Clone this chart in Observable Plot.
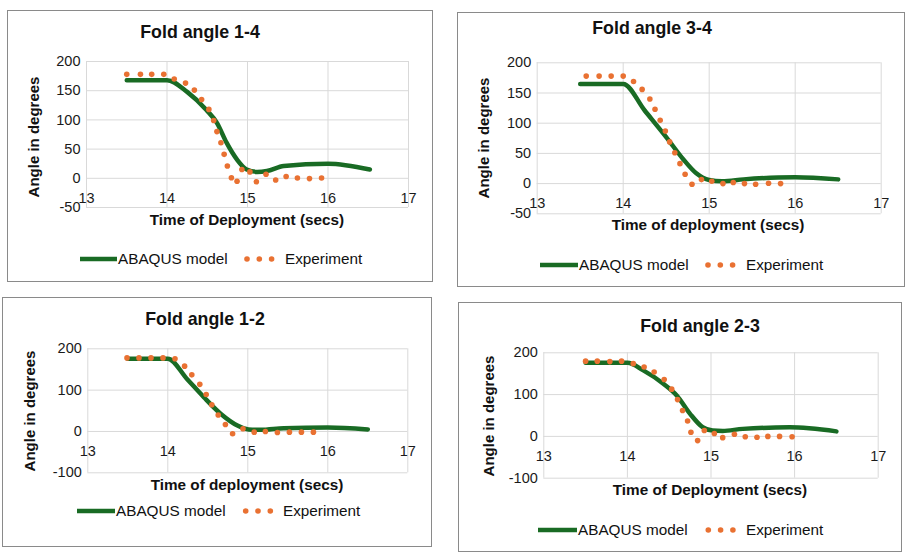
<!DOCTYPE html>
<html>
<head>
<meta charset="utf-8">
<script src="https://cdn.jsdelivr.net/npm/d3@7"></script>
<script src="https://cdn.jsdelivr.net/npm/@observablehq/plot@0.6"></script>
<style>
  html, body { margin: 0; padding: 0; background: #fff; }
  #root { position: relative; width: 912px; height: 559px; overflow: hidden; font-family: "Liberation Sans", Arial, sans-serif; color: #111; }
  .box { position: absolute; border: 1px solid #8a8a8a; box-sizing: border-box; }
  .abs { position: absolute; white-space: nowrap; }
  .title { font-weight: bold; font-size: 17.8px; transform: translate(-50%, -50%); }
  .xlab { font-weight: bold; font-size: 15.3px; transform: translate(-50%, -50%); }
  .ylab { font-weight: bold; font-size: 15px; transform: translate(-50%, -50%) rotate(-90deg); }
  .leg { font-size: 15.3px; transform: translateY(-50%); }
</style>
</head>
<body>
<div id="root"></div>
<script>
// ---- Shared axis values ----
const xTicks = [13, 14, 15, 16, 17];
const yTicksA = [-50, 0, 50, 100, 150, 200];
const yTicksB = [-100, 0, 100, 200];
const seriesNames = ["ABAQUS model", "Experiment"];
const panelTitles = ["Fold angle 1-4", "Fold angle 3-4", "Fold angle 1-2", "Fold angle 2-3"];
const xTitles = ["Time of Deployment (secs)", "Time of deployment (secs)", "Time of deployment (secs)", "Time of Deployment (secs)"];
const yTitle = "Angle in degrees";

// ---- Fold angle 1-4 ----
const t14Model = [13.5, 13.75, 14.0, 14.25, 14.49, 14.62, 14.74, 14.87, 14.99, 15.12, 15.24, 15.45, 16.0, 16.52];
const v14Model = [168, 168, 168, 148, 117, 95, 61, 32, 15, 11, 12.5, 21, 25, 15];
const t14Exp = [13.5, 13.67, 13.81, 13.96, 14.09, 14.23, 14.34, 14.43, 14.52, 14.58, 14.62, 14.67, 14.71, 14.75, 14.8, 14.87, 14.93, 15.03, 15.11, 15.23, 15.35, 15.48, 15.62, 15.77, 15.92];
const v14Exp = [178, 178, 178, 178, 170, 163, 151, 135, 118, 99, 80, 61, 41, 21, 1, -5, 15, 11, -6, 7, -3, 3, 0.5, -0.5, 0.5];

// ---- Fold angle 3-4 ----
const t34Model = [13.5, 13.75, 14.0, 14.25, 14.5, 14.7, 14.85, 15.0, 15.15, 15.4, 15.8, 16.0, 16.5];
const v34Model = [165, 165, 165, 121, 77, 40, 17, 6, 4, 7, 10, 10.5, 7];
const t34Exp = [13.57, 13.72, 13.86, 14.0, 14.12, 14.22, 14.31, 14.37, 14.43, 14.49, 14.54, 14.6, 14.66, 14.72, 14.8, 14.91, 15.03, 15.16, 15.28, 15.41, 15.54, 15.69, 15.83];
const v34Exp = [178, 178, 178, 178, 169, 156, 140, 123, 105, 87, 69, 51, 33, 15.5, -1, 6.6, 4, 0, 1.7, 0, -1, 0.5, 0];

// ---- Fold angle 1-2 ----
const t12Model = [13.5, 13.75, 14.0, 14.24, 14.45, 14.66, 14.87, 15.01, 15.16, 15.45, 16.0, 16.5];
const v12Model = [176, 176, 176, 127, 83, 43, 14.5, 5, 4, 8, 9.7, 5];
const t12Exp = [13.49, 13.64, 13.79, 13.94, 14.09, 14.21, 14.3, 14.4, 14.48, 14.55, 14.63, 14.72, 14.81, 14.94, 15.08, 15.22, 15.37, 15.52, 15.67, 15.82];
const v12Exp = [178, 178, 178, 178, 176, 158, 137, 114, 89.5, 64.5, 40, 17, -5.6, 6.5, -1.6, 0, -2.4, -1.6, -1.6, -1.6];

// ---- Fold angle 2-3 ----
const t23Model = [13.5, 13.75, 14.0, 14.19, 14.43, 14.59, 14.75, 14.9, 15.02, 15.14, 15.38, 15.94, 16.5];
const v23Model = [176, 176, 176, 158, 126, 98, 54, 22, 14, 13, 18, 21.6, 12];
const t23Exp = [13.5, 13.64, 13.79, 13.93, 14.07, 14.2, 14.32, 14.44, 14.53, 14.6, 14.66, 14.72, 14.76, 14.84, 14.92, 15.04, 15.14, 15.28, 15.41, 15.55, 15.68, 15.82, 15.97];
const v23Exp = [180, 180, 179, 180, 174, 166, 154, 136, 113, 88, 62, 37, 10, -10, 14, 7, -3, 5, -1, -2, 0, 0, -1];

const GREEN = "#196B24", ORANGE = "#E97132";
const zip = (ts, vs) => ts.map((t, i) => ({t, v: vs[i]}));

// layout (page pixels)
const panels = [
  {box: [7, 10, 433, 282], plot: [86, 61, 408, 207], yTicks: yTicksA, yDom: [-50, 200],
   model: zip(t14Model, v14Model), exp: zip(t14Exp, v14Exp), title: panelTitles[0], xTitle: xTitles[0],
   titleXY: [200, 32], xlabXY: [247, 220], ylabXY: [33, 137], leg: [80, 117, 259, 247, 285]},
  {box: [457, 12, 905, 287], plot: [536.7, 62.3, 880.7, 213.3], yTicks: yTicksA, yDom: [-50, 200],
   model: zip(t34Model, v34Model), exp: zip(t34Exp, v34Exp), title: panelTitles[1], xTitle: xTitles[1],
   titleXY: [652, 28], xlabXY: [708, 225], ylabXY: [483, 138], leg: [540, 578, 265, 708, 746]},
  {box: [2, 297, 432, 547], plot: [87.3, 348.3, 407.3, 472.3], yTicks: yTicksB, yDom: [-100, 200],
   model: zip(t12Model, v12Model), exp: zip(t12Exp, v12Exp), title: panelTitles[2], xTitle: xTitles[2],
   titleXY: [205, 319], xlabXY: [247, 485], ylabXY: [29, 411], leg: [77, 115, 511, 245.7, 283]},
  {box: [458, 302, 902, 552], plot: [543.3, 352.3, 877.7, 477.7], yTicks: yTicksB, yDom: [-100, 200],
   model: zip(t23Model, v23Model), exp: zip(t23Exp, v23Exp), title: panelTitles[3], xTitle: xTitles[3],
   titleXY: [700, 326], xlabXY: [710, 490], ylabXY: [488, 416], leg: [538, 577, 530, 708.3, 746]}
];

const root = document.getElementById("root");
function addDiv(cls, x, y, text) {
  const d = document.createElement("div");
  d.className = "abs " + cls;
  d.style.left = x + "px"; d.style.top = y + "px";
  d.textContent = text;
  root.appendChild(d);
  return d;
}

for (const p of panels) {
  const [bx0, by0, bx1, by1] = p.box;
  const [px0, py0, px1, py1] = p.plot;
  const box = document.createElement("div");
  box.className = "box";
  Object.assign(box.style, {left: bx0 + "px", top: by0 + "px", width: (bx1 - bx0) + "px", height: (by1 - by0) + "px"});
  root.appendChild(box);

  const chart = Plot.plot({
    width: bx1 - bx0, height: by1 - by0,
    marginLeft: px0 - bx0, marginRight: bx1 - px1, marginTop: py0 - by0, marginBottom: by1 - py1,
    x: {domain: [13, 17], axis: null},
    y: {domain: p.yDom},
    style: {fontFamily: '"Liberation Sans", Arial, sans-serif', fontSize: "14.5px", color: "#1a1a1a", background: "transparent", overflow: "visible"},
    marks: [
      Plot.gridY(p.yTicks, {stroke: "#d9d9d9", strokeOpacity: 1, strokeWidth: 1}),
      Plot.gridX(xTicks, {stroke: "#d9d9d9", strokeOpacity: 1, strokeWidth: 1}),
      Plot.axisY(p.yTicks, {tickSize: 0, tickPadding: 6, label: null, fontSize: 14.5, tickFormat: d => String(d)}),
      Plot.text(xTicks, {x: d => d, y: () => 0, dy: 20, text: d => String(d), fontSize: 14.5, fill: "#1a1a1a"}),
      Plot.line(p.model, {x: "t", y: "v", curve: "monotone-x", stroke: GREEN, strokeWidth: 4.5, strokeLinecap: "round", strokeLinejoin: "round"}),
      Plot.dot(p.exp, {x: "t", y: "v", r: 2.8, fill: ORANGE, stroke: null})
    ]
  });
  chart.style.position = "absolute";
  chart.style.left = bx0 + "px";
  chart.style.top = by0 + "px";
  root.appendChild(chart);

  addDiv("title", p.titleXY[0], p.titleXY[1], p.title);
  addDiv("xlab", p.xlabXY[0], p.xlabXY[1], p.xTitle);
  addDiv("ylab", p.ylabXY[0], p.ylabXY[1], yTitle);

  // legend
  const [lx0, lx1, ly, dx0, ex] = p.leg;
  const ls = d3.select(root).append("svg")
    .style("position", "absolute").style("left", "0px").style("top", "0px")
    .attr("width", 912).attr("height", 559).style("pointer-events", "none");
  ls.append("line").attr("x1", lx0).attr("x2", lx1).attr("y1", ly).attr("y2", ly)
    .attr("stroke", GREEN).attr("stroke-width", 4.5);
  for (let k = 0; k < 3; k++) {
    ls.append("circle").attr("cx", dx0 + k * 12.3).attr("cy", ly).attr("r", 2.8).attr("fill", ORANGE);
  }
  addDiv("leg", lx1 + 1, ly, seriesNames[0]);
  addDiv("leg", ex, ly, seriesNames[1]);
}
</script>
</body>
</html>
